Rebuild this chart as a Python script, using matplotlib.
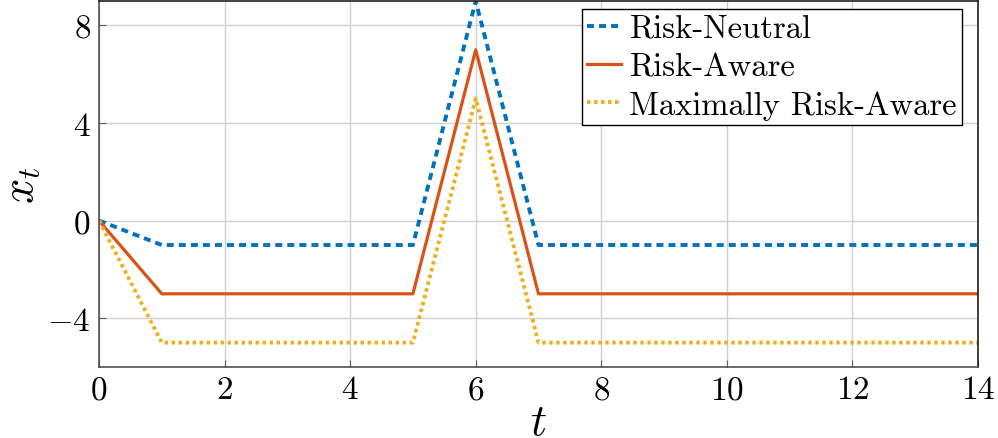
import matplotlib
matplotlib.use("Agg")
import matplotlib.pyplot as plt
import numpy as np

plt.rcParams['mathtext.fontset'] = 'cm'
plt.rcParams['font.family'] = ['cmr10', 'DejaVu Serif']
plt.rcParams['axes.formatter.use_mathtext'] = True
plt.rcParams['axes.unicode_minus'] = True

t = list(range(15))
risk_neutral = [0, -1, -1, -1, -1, -1, 9, -1, -1, -1, -1, -1, -1, -1, -1]
risk_aware = [0, -3, -3, -3, -3, -3, 7, -3, -3, -3, -3, -3, -3, -3, -3]
max_risk_aware = [0, -5, -5, -5, -5, -5, 5, -5, -5, -5, -5, -5, -5, -5, -5]
labels = ["Risk-Neutral", "Risk-Aware", "Maximally Risk-Aware"]
colors = ["#0072BD", "#D95319", "#EDB120"]

fig = plt.figure(figsize=(9.98, 4.39), dpi=100)
ax = fig.add_axes([99/998, 1 - 368/439, (978-99)/998, (368-2)/439])

ax.plot(t, risk_neutral, color=colors[0], lw=2.8, dashes=(1.8, 1.3), dash_capstyle='butt', label=labels[0])
ax.plot(t, risk_aware, color=colors[1], lw=2.3, label=labels[1])
ax.plot(t, max_risk_aware, color=colors[2], lw=2.8, dashes=(0.9, 0.9), dash_capstyle='butt', label=labels[2])

ax.set_xlim(0, 14)
ax.set_ylim(-6, 9)
ax.set_xticks(range(0, 15, 2))
ax.set_yticks([-4, 0, 4, 8])
ax.grid(True, color='#d0d0d0', lw=1)
ax.set_axisbelow(True)
ax.tick_params(direction='in', labelsize=24, length=5, color='#606060', pad=6)
for s in ['left', 'bottom']:
    ax.spines[s].set_color('#505050')
for s in ['top', 'right']:
    ax.spines[s].set_color('#202020')
for s in ax.spines.values():
    s.set_linewidth(1.2)

ax.set_xlabel(r'$t$', fontsize=32, labelpad=-1)
ax.set_ylabel(r'$x_t$', fontsize=32, labelpad=4)

leg = ax.legend(loc='upper right', fontsize=23.5, frameon=True, fancybox=False,
                edgecolor='black', framealpha=1, borderpad=0.15, labelspacing=0.28,
                handlelength=1.05, handletextpad=0.25, borderaxespad=0,
                bbox_to_anchor=(962/998, 1 - 10/439), bbox_transform=fig.transFigure)
leg.get_frame().set_linewidth(1.0)

fig.savefig("out.png", dpi=100)
